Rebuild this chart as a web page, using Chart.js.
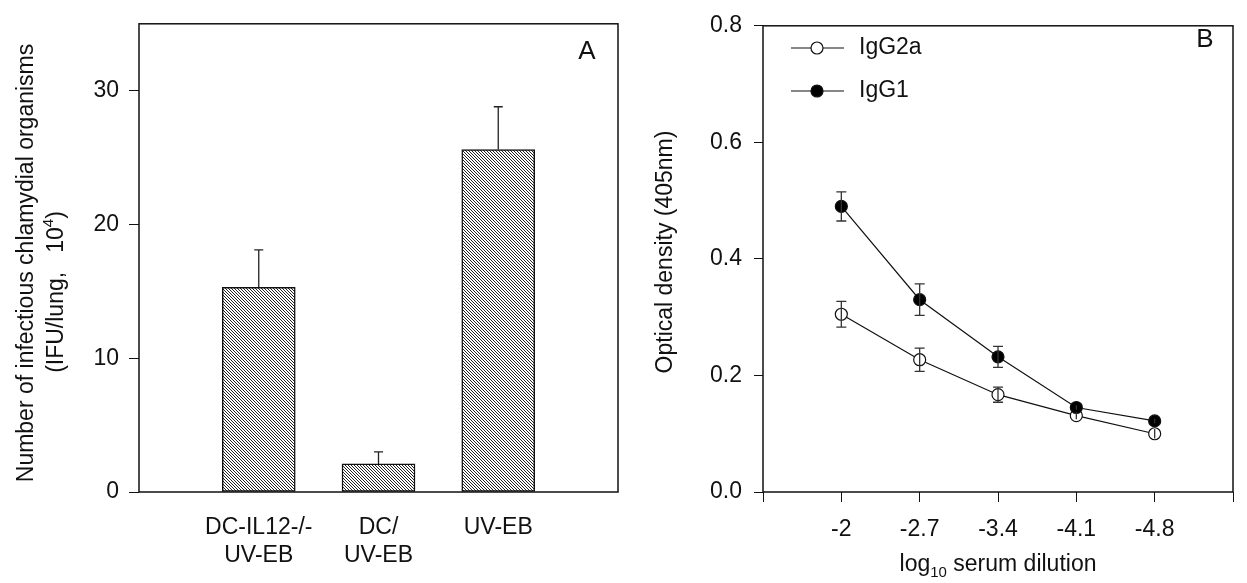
<!DOCTYPE html>
<html>
<head>
<meta charset="utf-8">
<script src="https://cdn.jsdelivr.net/npm/chart.js@4"></script>
<style>
  html, body { margin: 0; padding: 0; background: #fff; }
  #wrap { position: relative; width: 1247px; height: 583px; }
  #barChart { position: absolute; left: 0; top: 0; }
  #lineChart { position: absolute; left: 640px; top: 0; }
</style>
</head>
<body>
<div id="wrap">
  <canvas id="barChart" width="640" height="583"></canvas>
  <canvas id="lineChart" width="607" height="583"></canvas>
</div>
<script>
// panel A
const groups = [['DC-IL12-/-', 'UV-EB'], ['DC/', 'UV-EB'], 'UV-EB'];
const ifuValues = [15.3, 2.1, 25.6];
const ifuErrors = [2.8, 0.9, 3.2];
const ifuTicks = [0, 10, 20, 30];

// panel B
const dilutions = ['-2', '-2.7', '-3.4', '-4.1', '-4.8'];
const igg2a = [0.305, 0.227, 0.167, 0.131, 0.100];
const igg2aErr = [0.022, 0.020, 0.013, 0.006, 0.008];
const igg1 = [0.490, 0.330, 0.232, 0.145, 0.122];
const igg1Err = [0.025, 0.027, 0.018, 0.004, 0.004];
const odTicks = [0, 0.2, 0.4, 0.6, 0.8];

const FONT = "'Liberation Sans', Arial, sans-serif";
const INK = '#111';
Chart.defaults.font.family = FONT;
Chart.defaults.color = INK;

function hatch() {
  const c = document.createElement('canvas');
  c.width = 3; c.height = 3;
  const g = c.getContext('2d');
  g.fillStyle = '#fff';
  g.fillRect(0, 0, 3, 3);
  g.fillStyle = '#222';
  for (let i = 0; i < 3; i++) g.fillRect(i, i, 1, 1);
  return g.createPattern(c, 'repeat');
}

function frame(chart) {
  const {ctx, chartArea: a} = chart;
  ctx.save();
  ctx.strokeStyle = INK;
  ctx.lineWidth = 1.5;
  ctx.strokeRect(a.left, a.top, a.right - a.left, a.bottom - a.top);
  ctx.restore();
}

function vtext(ctx, x, y, parts) {
  // parts: [text, size, shift]
  ctx.save();
  ctx.translate(x, y);
  ctx.rotate(-Math.PI / 2);
  ctx.textBaseline = 'middle';
  ctx.textAlign = 'left';
  let w = 0;
  parts.forEach(p => { ctx.font = p[1] + 'px ' + FONT; w += ctx.measureText(p[0]).width; });
  let cx = -w / 2;
  parts.forEach(p => {
    ctx.font = p[1] + 'px ' + FONT;
    ctx.fillText(p[0], cx, p[2]);
    cx += ctx.measureText(p[0]).width;
  });
  ctx.restore();
}

const barExtras = {
  id: 'barExtras',
  afterDatasetsDraw(chart) {
    const {ctx, scales: {x, y}} = chart;
    ctx.save();
    ctx.strokeStyle = '#222';
    ctx.lineWidth = 1.3;
    ifuValues.forEach((v, i) => {
      const px = x.getPixelForValue(i + 1);
      const y0 = y.getPixelForValue(v);
      const y1 = y.getPixelForValue(v + ifuErrors[i]);
      ctx.beginPath();
      ctx.moveTo(px, y0); ctx.lineTo(px, y1);
      ctx.moveTo(px - 4.5, y1); ctx.lineTo(px + 4.5, y1);
      ctx.stroke();
    });
    ctx.restore();
  },
  afterDraw(chart) {
    frame(chart);
    const ctx = chart.ctx;
    ctx.save();
    ctx.fillStyle = INK;
    ctx.font = '26px ' + FONT;
    ctx.textAlign = 'center';
    ctx.textBaseline = 'middle';
    ctx.fillText('A', 587, 52);
    vtext(ctx, 27, 263, [['Number of infectious chlamydial organisms', 23, 0]]);
    vtext(ctx, 57, 292, [['(IFU/lung,   10', 23, 0], ['4', 15, -8], [')', 23, 0]]);
    ctx.restore();
  }
};

new Chart(document.getElementById('barChart'), {
  type: 'bar',
  data: {
    labels: ['', ...groups, ''],
    datasets: [{
      data: [null, ...ifuValues, null],
      backgroundColor: hatch(),
      borderColor: INK,
      borderWidth: 1.5,
      borderSkipped: false,
      barThickness: 73
    }]
  },
  options: {
    responsive: false,
    animation: false,
    layout: { padding: { top: 13, right: 20, left: 0, bottom: 0 } },
    plugins: { legend: { display: false }, tooltip: { enabled: false } },
    scales: {
      x: {
        offset: false,
        grid: { drawOnChartArea: false, drawTicks: false },
        border: { display: false },
        ticks: { font: { size: 23, lineHeight: 1.22 }, padding: 22, maxRotation: 0, autoSkip: false },
        afterFit(s) { s.height = 91; }
      },
      y: {
        min: 0, max: 35,
        afterBuildTicks(s) { s.ticks = ifuTicks.map(v => ({ value: v })); },
        grid: { drawOnChartArea: false, tickLength: 10, color: INK },
        border: { display: false },
        ticks: { font: { size: 23 }, padding: 10 },
        afterFit(s) { s.width = 139; }
      }
    }
  },
  plugins: [barExtras]
});

const lineExtras = {
  id: 'lineExtras',
  afterDatasetsDraw(chart) {
    const {ctx, scales: {x, y}} = chart;
    ctx.save();
    ctx.strokeStyle = '#333';
    ctx.lineWidth = 1.3;
    [[igg2a, igg2aErr], [igg1, igg1Err]].forEach(([vals, errs]) => {
      vals.forEach((v, i) => {
        const px = x.getPixelForValue(i + 1);
        const t = y.getPixelForValue(v + errs[i]);
        const b = y.getPixelForValue(v - errs[i]);
        ctx.beginPath();
        ctx.moveTo(px, t); ctx.lineTo(px, b);
        if (errs[i] > 0.01) {
          ctx.moveTo(px - 5, t); ctx.lineTo(px + 5, t);
          ctx.moveTo(px - 5, b); ctx.lineTo(px + 5, b);
        }
        ctx.stroke();
      });
    });
    ctx.restore();
  },
  afterDraw(chart) {
    frame(chart);
    const ctx = chart.ctx;
    ctx.save();
    ctx.fillStyle = INK;
    ctx.font = '26px ' + FONT;
    ctx.textAlign = 'center';
    ctx.textBaseline = 'middle';
    ctx.fillText('B', 565, 40);

    // legend
    chart.data.datasets.forEach((ds, i) => {
      const ly = 48 + i * 43;
      ctx.strokeStyle = INK;
      ctx.lineWidth = 1.2;
      ctx.beginPath(); ctx.moveTo(151, ly); ctx.lineTo(204, ly); ctx.stroke();
      ctx.beginPath(); ctx.arc(177, ly, 6, 0, Math.PI * 2);
      ctx.fillStyle = ds.pointBackgroundColor; ctx.fill(); ctx.stroke();
      ctx.fillStyle = INK;
      ctx.font = '23px ' + FONT;
      ctx.textAlign = 'left';
      ctx.fillText(ds.label, 219, ly);
    });

    vtext(ctx, 26, 252, [['Optical density (405nm)', 23, 0]]);

    // x title with subscript
    ctx.textAlign = 'left';
    ctx.textBaseline = 'alphabetic';
    const parts = [['log', 23, 0], ['10', 15, 6], [' serum dilution', 23, 0]];
    let w = 0;
    parts.forEach(p => { ctx.font = p[1] + 'px ' + FONT; w += ctx.measureText(p[0]).width; });
    let cx = (chart.chartArea.left + chart.chartArea.right) / 2 - w / 2;
    parts.forEach(p => {
      ctx.font = p[1] + 'px ' + FONT;
      ctx.fillText(p[0], cx, 571 + p[2]);
      cx += ctx.measureText(p[0]).width;
    });
    ctx.restore();
  }
};

new Chart(document.getElementById('lineChart'), {
  type: 'line',
  data: {
    datasets: [{
      label: 'IgG2a',
      data: igg2a.map((v, i) => ({ x: i + 1, y: v })),
      borderColor: INK, borderWidth: 1.2,
      pointRadius: 6, pointBackgroundColor: '#fff', pointBorderColor: INK, pointBorderWidth: 1.2,
      order: 1
    }, {
      label: 'IgG1',
      data: igg1.map((v, i) => ({ x: i + 1, y: v })),
      borderColor: INK, borderWidth: 1.2,
      pointRadius: 6, pointBackgroundColor: '#000', pointBorderColor: INK, pointBorderWidth: 1.2,
      order: 0
    }]
  },
  options: {
    responsive: false,
    animation: false,
    layout: { padding: { top: 13, right: 4, left: 0, bottom: 0 } },
    plugins: { legend: { display: false }, tooltip: { enabled: false } },
    scales: {
      x: {
        type: 'linear', min: 0, max: 6,
        afterBuildTicks(s) { s.ticks = [0, 1, 2, 3, 4, 5, 6].map(v => ({ value: v })); },
        grid: { drawOnChartArea: false, tickLength: 10, color: INK },
        border: { display: false },
        ticks: { font: { size: 23 }, padding: 14, maxRotation: 0, callback: v => dilutions[v - 1] || '' },
        afterFit(s) { s.height = 91; }
      },
      y: {
        min: 0, max: 0.8,
        afterBuildTicks(s) { s.ticks = odTicks.map(v => ({ value: v })); },
        grid: { drawOnChartArea: false, tickLength: 9, color: INK },
        border: { display: false },
        ticks: { font: { size: 23 }, padding: 12, callback: v => v.toFixed(1) },
        afterFit(s) { s.width = 123; }
      }
    }
  },
  plugins: [lineExtras]
});
</script>
</body>
</html>
